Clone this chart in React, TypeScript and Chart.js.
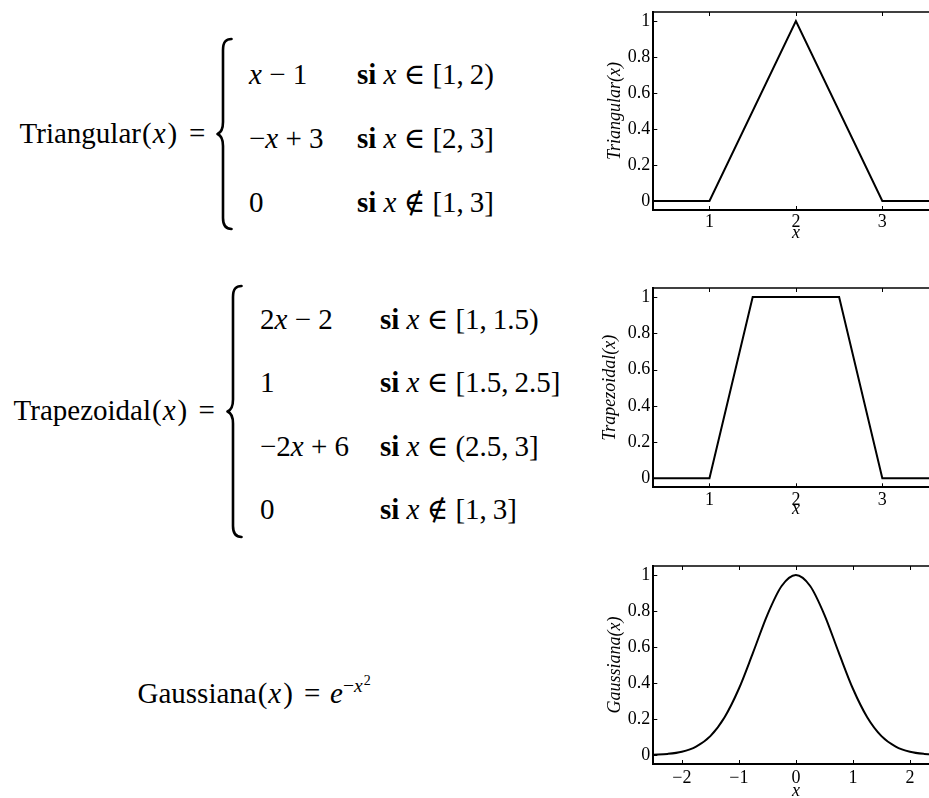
import React, { useEffect, useRef } from 'react';
import { Chart, registerables } from 'chart.js';

Chart.register(...registerables);

const SERIF = '"Liberation Serif", "DejaVu Serif", "Times New Roman", serif';

// Funciones de pertenencia (puntos de quiebre)
const triX = [0.35, 1, 2, 3, 3.65];
const triY = [0, 0, 1, 0, 0];

const trapX = [0.35, 1, 1.5, 2.5, 3, 3.65];
const trapY = [0, 0, 1, 1, 0, 0];

const gaussX = [-2.5, -2.25, -2, -1.75, -1.5, -1.25, -1, -0.75, -0.5, -0.25, 0, 0.25, 0.5, 0.75, 1, 1.25, 1.5, 1.75, 2, 2.25, 2.5];
const gaussY = [0.002, 0.006, 0.018, 0.047, 0.105, 0.21, 0.368, 0.57, 0.779, 0.939, 1, 0.939, 0.779, 0.57, 0.368, 0.21, 0.105, 0.047, 0.018, 0.006, 0.002];

// Marcas de los ejes
const yTicks = [0, 0.2, 0.4, 0.6, 0.8, 1];
const fuzzyXTicks = [1, 2, 3];
const gaussXTicks = [-2, -1, 0, 1, 2];

const fmt = (v: number) => String(v).replace('-', '\u2212');

// Marco superior y marcas interiores al estilo MATLAB
const framePlugin = {
  id: 'frame',
  afterDraw(chart: any) {
    const { ctx, chartArea: a, scales } = chart;
    ctx.save();
    ctx.strokeStyle = '#000';
    ctx.lineWidth = 1.5;
    ctx.beginPath();
    ctx.moveTo(a.left, a.top);
    ctx.lineTo(a.right, a.top);
    ctx.stroke();
    ctx.lineWidth = 1;
    const L = 4;
    ctx.beginPath();
    for (const t of scales.x.ticks) {
      const px = Math.round(scales.x.getPixelForValue(t.value)) + 0.5;
      ctx.moveTo(px, a.top);
      ctx.lineTo(px, a.top + L);
      ctx.moveTo(px, a.bottom);
      ctx.lineTo(px, a.bottom - L);
    }
    for (const t of scales.y.ticks) {
      const py = Math.round(scales.y.getPixelForValue(t.value)) + 0.5;
      ctx.moveTo(a.left, py);
      ctx.lineTo(a.left + L, py);
      ctx.moveTo(a.right, py);
      ctx.lineTo(a.right - L, py);
    }
    ctx.stroke();
    ctx.restore();
  },
};

interface PlotProps {
  xs: number[];
  ys: number[];
  xMin: number;
  xMax: number;
  xTicks: number[];
  yLabel: string;
  top: number;
  height: number;
  padTop: number;
  xAxisH: number;
  xTitlePad: number;
  xTickPad: number;
  yTitlePad: number;
  smooth?: boolean;
}

const CANVAS_W = 380;

function Plot(p: PlotProps) {
  const ref = useRef<HTMLCanvasElement>(null);
  useEffect(() => {
    if (!ref.current) return;
    const chart = new Chart(ref.current, {
      type: 'scatter',
      data: {
        datasets: [
          {
            data: p.xs.map((x, i) => ({ x, y: p.ys[i] })),
            showLine: true,
            borderColor: '#000',
            backgroundColor: '#000',
            borderWidth: 2,
            pointRadius: 0,
            pointHoverRadius: 0,
            fill: false,
            tension: 0,
            cubicInterpolationMode: p.smooth ? 'monotone' : 'default',
          } as any,
        ],
      },
      options: {
        animation: false,
        responsive: false,
        events: [],
        layout: { padding: { top: p.padTop, right: 21.5, left: 0, bottom: 0 } },
        plugins: { legend: { display: false }, tooltip: { enabled: false } },
        scales: {
          x: {
            type: 'linear',
            position: 'bottom',
            min: p.xMin,
            max: p.xMax,
            afterBuildTicks: (s: any) => {
              s.ticks = p.xTicks.map((v) => ({ value: v }));
            },
            afterFit: (s: any) => {
              s.height = p.xAxisH;
            },
            grid: { display: true, drawOnChartArea: false, drawTicks: false },
            border: { display: true, color: '#000', width: 2 },
            ticks: {
              color: '#000',
              font: { family: SERIF, size: 18, lineHeight: 1 },
              padding: p.xTickPad,
              maxRotation: 0,
              autoSkip: false,
              callback: (v: any) => fmt(Number(v)),
            },
            title: {
              display: true,
              text: 'x',
              color: '#000',
              font: { family: SERIF, size: 18, style: 'italic', lineHeight: 1.2 },
              padding: { top: 0, bottom: p.xTitlePad },
            },
          },
          y: {
            type: 'linear',
            position: 'left',
            min: -0.05,
            max: 1.05,
            afterBuildTicks: (s: any) => {
              s.ticks = yTicks.map((v) => ({ value: v }));
            },
            afterFit: (s: any) => {
              s.width = 73.3;
            },
            grid: { display: true, drawOnChartArea: false, drawTicks: false },
            border: { display: true, color: '#000', width: 2 },
            ticks: {
              color: '#000',
              font: { family: SERIF, size: 18, lineHeight: 1 },
              padding: 3,
              autoSkip: false,
              callback: (v: any) => fmt(Number(v)),
            },
            title: {
              display: true,
              text: p.yLabel,
              color: '#000',
              font: { family: SERIF, size: 18, style: 'italic', lineHeight: 1.2 },
              padding: { top: p.yTitlePad, bottom: 0 },
            },
          },
        },
      },
      plugins: [framePlugin],
    });
    return () => chart.destroy();
  }, []);
  return (
    <canvas
      ref={ref}
      width={CANVAS_W}
      height={p.height}
      style={{ position: 'absolute', left: 580, top: p.top, width: CANVAS_W, height: p.height }}
    />
  );
}

// Llave izquierda de una definición por casos
function Brace({ x, y, h }: { x: number; y: number; h: number }) {
  const m = h / 2;
  const d = [
    `M 14.5 1`,
    `C 9 1, 6 4, 6 12`,
    `L 6 ${m - 12}`,
    `C 6 ${m - 4}, 3 ${m - 1}, 0.5 ${m}`,
    `C 3 ${m + 1}, 6 ${m + 4}, 6 ${m + 12}`,
    `L 6 ${h - 12}`,
    `C 6 ${h - 4}, 9 ${h - 1}, 14.5 ${h - 1}`,
  ].join(' ');
  return (
    <path
      d={d}
      transform={`translate(${x} ${y})`}
      fill="none"
      stroke="#000"
      strokeWidth={2.6}
      strokeLinecap="round"
      strokeLinejoin="round"
    />
  );
}

const I = ({ children }: { children: React.ReactNode }) => <tspan fontStyle="italic">{children}</tspan>;
const B = ({ children }: { children: React.ReactNode }) => <tspan fontWeight="bold">{children}</tspan>;

// Argumento "(x)" con el espaciado algo más holgado de la tipografía matemática
const Arg = () => (
  <>
    <tspan dx={1}>(</tspan>
    <tspan dx={1} fontStyle="italic">x</tspan>
    <tspan dx={2}>)</tspan>
  </>
);

// Condición "si x ∈ intervalo" (espacio fino tras la coma)
const Cond = ({ rel, iv }: { rel: string; iv: string }) => (
  <>
    <B>si</B> <I>x</I> {rel} {iv.replace(', ', ',\u2009')}
  </>
);

function Formulas() {
  return (
    <svg
      width={570}
      height={798}
      style={{ position: 'absolute', left: 0, top: 0 }}
      fontFamily={SERIF}
      fontSize={29}
      fill="#000"
    >
      {/* Triangular */}
      <text x={19.6} y={143}>
        Triangular
        <Arg />
        <tspan x={189}>=</tspan>
      </text>
      <Brace x={217} y={38} h={192} />
      <text x={249} y={84}>
        <I>x</I> − 1
      </text>
      <text x={357} y={84}>
        <Cond rel="∈" iv="[1, 2)" />
      </text>
      <text x={249} y={148}>
        −<I>x</I> + 3
      </text>
      <text x={357} y={148}>
        <Cond rel="∈" iv="[2, 3]" />
      </text>
      <text x={249} y={212}>0</text>
      <text x={357} y={212}>
        <Cond rel="∉" iv="[1, 3]" />
      </text>

      {/* Trapezoidal */}
      <text x={13.6} y={420}>
        Trapezoidal
        <Arg />
        <tspan x={198.5}>=</tspan>
      </text>
      <Brace x={227} y={285} h={253} />
      <text x={260} y={329}>
        2<I>x</I> − 2
      </text>
      <text x={380} y={329}>
        <Cond rel="∈" iv="[1, 1.5)" />
      </text>
      <text x={260} y={392}>1</text>
      <text x={380} y={392}>
        <Cond rel="∈" iv="[1.5, 2.5]" />
      </text>
      <text x={260} y={456}>
        −2<I>x</I> + 6
      </text>
      <text x={380} y={456}>
        <Cond rel="∈" iv="(2.5, 3]" />
      </text>
      <text x={260} y={519}>0</text>
      <text x={380} y={519}>
        <Cond rel="∉" iv="[1, 3]" />
      </text>

      {/* Gaussiana */}
      <text x={137.5} y={703}>
        Gaussiana
        <Arg />
        <tspan x={304}>=</tspan>
        <tspan x={330} fontStyle="italic">e</tspan>
        <tspan dy={-11} fontSize={19.6}>
          −<tspan fontStyle="italic">x</tspan>
        </tspan>
        <tspan dy={-7} dx={1} fontSize={14}>2</tspan>
      </text>
    </svg>
  );
}

export default function App() {
  return (
    <div
      style={{
        position: 'fixed',
        left: 0,
        top: 0,
        width: 929,
        height: 798,
        overflow: 'hidden',
        background: '#fff',
      }}
    >
      <Formulas />
      <Plot
        xs={triX}
        ys={triY}
        xMin={0.35}
        xMax={3.65}
        xTicks={fuzzyXTicks}
        yLabel="Triangular(x)"
        top={0}
        height={250}
        padTop={8}
        xAxisH={40}
        xTitlePad={6}
        xTickPad={3.7}
        yTitlePad={24.2}
      />
      <Plot
        xs={trapX}
        ys={trapY}
        xMin={0.35}
        xMax={3.65}
        xTicks={fuzzyXTicks}
        yLabel="Trapezoidal(x)"
        top={276}
        height={250}
        padTop={8.3}
        xAxisH={38.7}
        xTitlePad={6}
        xTickPad={3.7}
        yTitlePad={19.2}
      />
      <Plot
        xs={gaussX}
        ys={gaussY}
        xMin={-2.5}
        xMax={2.5}
        xTicks={gaussXTicks}
        yLabel="Gaussiana(x)"
        top={554}
        height={260}
        padTop={8.3}
        xAxisH={50}
        xTitlePad={12}
        xTickPad={5}
        yTitlePad={24.2}
        smooth
      />
    </div>
  );
}
